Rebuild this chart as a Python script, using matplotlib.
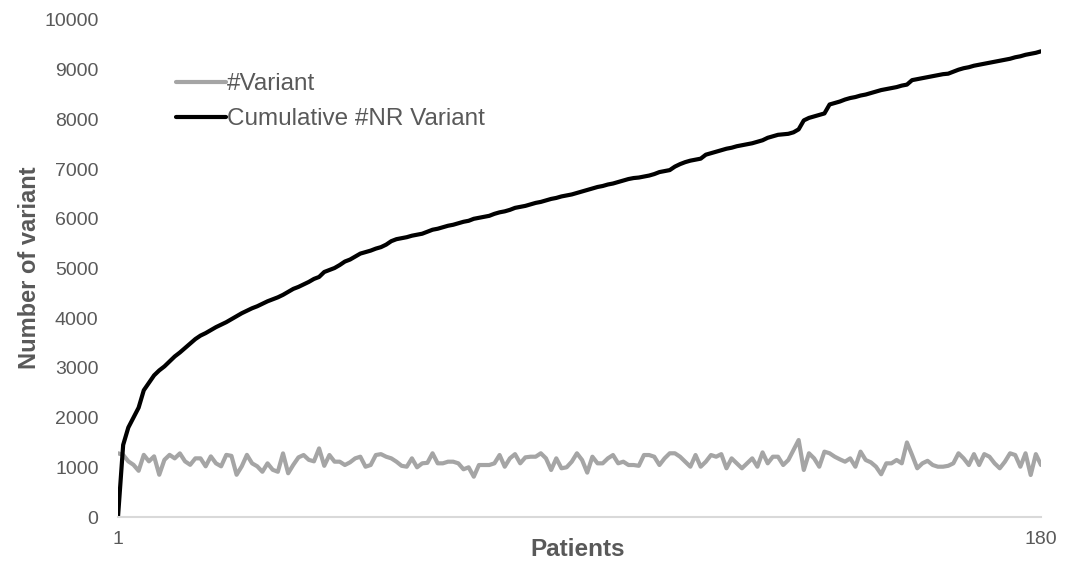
import matplotlib
matplotlib.use("Agg")
import matplotlib.pyplot as plt

plt.rcParams['font.family'] = ['Liberation Sans', 'DejaVu Sans']

patients = list(range(1, 181))

variant = [
    1282, 1250, 1120, 1050, 930, 1250, 1120, 1220, 850, 1150,
    1250, 1180, 1280, 1120, 1050, 1180, 1180, 1020, 1220, 1080,
    1020, 1250, 1230, 850, 1020, 1250, 1080, 1020, 910, 1080,
    950, 910, 1280, 880, 1050, 1200, 1247, 1150, 1120, 1380,
    1030, 1247, 1113, 1113, 1046, 1100, 1180, 1213, 1012, 1046,
    1247, 1265, 1213, 1180, 1113, 1030, 1012, 1180, 1000, 1080,
    1090, 1282, 1080, 1080, 1113, 1113, 1080, 960, 1000, 811,
    1046, 1046, 1046, 1080, 1247, 1012, 1180, 1265, 1080, 1200,
    1213, 1213, 1282, 1180, 946, 1180, 980, 1000, 1113, 1282,
    1147, 893, 1213, 1080, 1080, 1180, 1247, 1080, 1113, 1046,
    1046, 1030, 1247, 1247, 1213, 1046, 1180, 1282, 1282, 1213,
    1113, 1012, 1247, 1012, 1113, 1247, 1213, 1265, 980, 1180,
    1080, 980, 1080, 1180, 1012, 1300, 1080, 1213, 1213, 1046,
    1147, 1348, 1549, 946, 1282, 1180, 1012, 1315, 1282, 1213,
    1160, 1113, 1180, 1012, 1315, 1147, 1100, 1012, 860, 1080,
    1080, 1147, 1080, 1500, 1247, 980, 1080, 1130, 1046, 1012,
    1012, 1030, 1080, 1282, 1180, 1046, 1265, 1046, 1265, 1213,
    1080, 980, 1113, 1282, 1247, 1012, 1282, 845, 1265, 1046,
]

cumulative = [
    0, 1450, 1800, 2000, 2200, 2550, 2700, 2850, 2950, 3030,
    3130, 3230, 3310, 3400, 3490, 3580, 3650, 3700, 3760, 3820,
    3870, 3920, 3980, 4040, 4100, 4150, 4200, 4240, 4290, 4340,
    4380, 4420, 4470, 4530, 4590, 4630, 4680, 4730, 4790, 4830,
    4930, 4970, 5010, 5070, 5140, 5180, 5240, 5300, 5330, 5360,
    5400, 5430, 5480, 5550, 5590, 5610, 5630, 5660, 5680, 5700,
    5740, 5780, 5800, 5830, 5860, 5880, 5910, 5940, 5960, 6000,
    6020, 6040, 6060, 6100, 6130, 6150, 6180, 6220, 6240, 6260,
    6290, 6320, 6340, 6370, 6400, 6420, 6450, 6470, 6490, 6520,
    6550, 6580, 6610, 6640, 6660, 6690, 6710, 6740, 6770, 6800,
    6820, 6830, 6850, 6870, 6900, 6940, 6960, 6980, 7050, 7100,
    7140, 7170, 7190, 7210, 7290, 7320, 7350, 7380, 7410, 7430,
    7460, 7480, 7500, 7520, 7550, 7580, 7630, 7660, 7690, 7700,
    7710, 7740, 7800, 7980, 8030, 8060, 8090, 8120, 8300, 8330,
    8360, 8400, 8430, 8450, 8480, 8500, 8530, 8560, 8590, 8610,
    8630, 8650, 8680, 8700, 8790, 8810, 8830, 8850, 8870, 8890,
    8910, 8920, 8960, 9000, 9030, 9050, 9080, 9100, 9120, 9140,
    9160, 9180, 9200, 9220, 9250, 9270, 9300, 9320, 9340, 9370,
]

x_tick_labels = ["1", "180"]
y_ticks = list(range(0, 10001, 1000))

TXT = "#595959"

fig = plt.figure(figsize=(10.73, 5.62), dpi=100)
ax_left, ax_right, ax_bottom, ax_top = 118, 1041, 517, 20
ax = fig.add_axes([ax_left / 1073, 1 - ax_bottom / 562,
                   (ax_right - ax_left) / 1073, (ax_bottom - ax_top) / 562])

ax.plot(patients, variant, color="#A5A5A5", lw=3.0, label="#Variant",
        solid_joinstyle="round", solid_capstyle="round")
ax.plot(patients, cumulative, color="#000000", lw=3.0, label="Cumulative #NR Variant",
        solid_joinstyle="round", solid_capstyle="round")

ax.set_xlim(1, 180)
ax.set_ylim(0, 10000)
ax.set_yticks(y_ticks)
ax.set_yticklabels([str(v) for v in y_ticks])
ax.set_xticks([patients[0], patients[-1]])
ax.set_xticklabels(x_tick_labels)
ax.tick_params(axis="both", length=0, labelsize=14, labelcolor=TXT)
ax.tick_params(axis="y", pad=14)
ax.tick_params(axis="x", pad=10)

for s in ["top", "right", "left"]:
    ax.spines[s].set_visible(False)
ax.spines["bottom"].set_color("#D9D9D9")
ax.spines["bottom"].set_linewidth(1.5)

w = ax_right - ax_left
h = ax_bottom - ax_top
ax.set_ylabel("Number of variant", fontsize=17, fontweight="bold", color=TXT, va="center")
ax.yaxis.set_label_coords((30 - ax_left) / w, (ax_bottom - 268) / h)
ax.set_xlabel("Patients", fontsize=17.5, fontweight="bold", color=TXT, va="center")
ax.xaxis.set_label_coords((578 - ax_left) / w, (ax_bottom - 550) / h)

leg = fig.legend(loc="upper left", bbox_to_anchor=(176 / 1073, 1 - 73 / 562),
                 frameon=False, fontsize=17.5, handlelength=2.05, handletextpad=0.05,
                 labelspacing=0.55, borderpad=0, borderaxespad=0)
for t in leg.get_texts():
    t.set_color(TXT)

fig.savefig("out.png", dpi=100)
